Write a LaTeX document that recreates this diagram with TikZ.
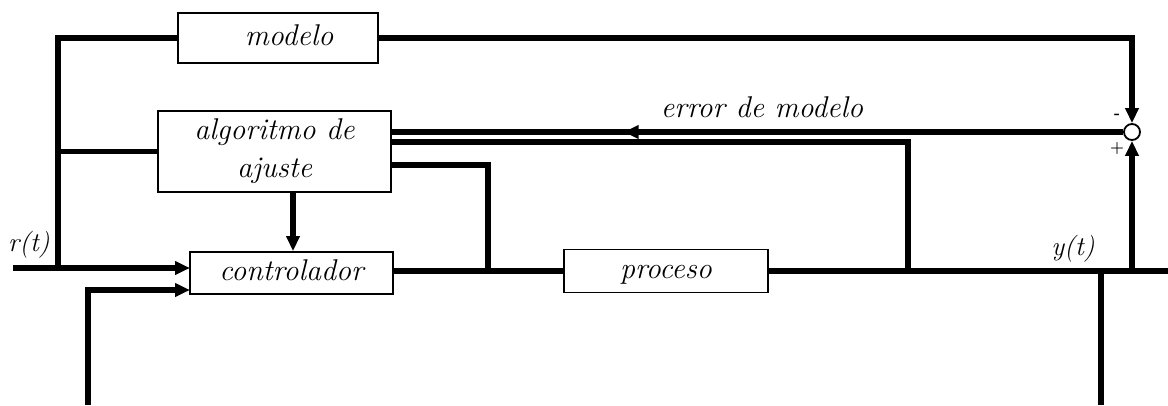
\documentclass[tikz,border=0pt]{standalone}
\usetikzlibrary{arrows.meta,decorations.markings}
\begin{document}
\begin{tikzpicture}[x=1pt,y=-1pt,
  wire/.style={line width=5.8pt,black},
  tip/.style={-{Triangle[length=15pt,width=13pt]}},
  blk/.style={draw=black,line width=1.8pt,fill=white,inner sep=0pt,
    font=\fontsize{30}{38}\selectfont\itshape,text height=21pt,text depth=6pt},
  lbl/.style={inner sep=0pt,font=\fontsize{27}{30}\selectfont\itshape},
  sgn/.style={inner sep=0pt,font=\fontsize{16}{16}\selectfont\bfseries}]
\useasboundingbox (0,0) rectangle (1168,405);
% blocks
\node[blk,minimum width=200pt,minimum height=50pt] (modelo) at (278,38) {\hspace*{22pt}modelo};
\node[blk,minimum width=233pt,minimum height=81pt,align=center,text height=,text depth=] (algo) at (274.5,151.5) {algoritmo de\\ajuste};
\node[blk,minimum width=203pt,minimum height=42pt] (ctrl) at (291.5,273) {controlador};
\node[blk,minimum width=204pt,minimum height=43pt] (proc) at (666,271) {proceso};
\node[draw=black,line width=1.8pt,circle,minimum size=16pt,inner sep=0pt] (sum) at (1132,132) {};
% labels
\node[lbl] (rt) at (29,245) {r(t)};
\node[lbl] (yt) at (1073,249) {y(t)};
\node[lbl,anchor=base,font=\fontsize{30}{30}\selectfont\itshape] (err) at (762,117) {error de modelo};
\node[sgn] (minus) at (1117,116) {-};
\node[sgn] (plus) at (1117,149) {+};
% coordinates
\coordinate (rin) at (13,268);
\coordinate (jL) at (58,268);
\coordinate (c1) at (190,268);
\coordinate (c2) at (190,290);
\coordinate (bot1) at (88,405);
\coordinate (e2) at (391,142);
\coordinate (e3) at (391,165);
\coordinate (jA) at (488,271);
\coordinate (jB) at (908,271);
\coordinate (jD) at (1101,271);
\coordinate (jS) at (1132,271);
\coordinate (out) at (1168,271);
\coordinate (bot2) at (1101,405);
\coordinate (d1) at (293,192);
% connectors
\draw[wire,tip] (rin) -- (c1);
\draw[wire] (jL) |- (modelo.west);
\draw[wire] (jL |- algo.west) -- (algo.west);
\draw[wire,tip] (modelo.east) -| (sum.north);
\draw[wire,postaction={decorate},decoration={markings,
  mark=at position 0.683 with {\arrow{Triangle[length=15pt,width=13pt]}}}]
  (sum.west) -- (algo.east |- sum.west);
\draw[wire] (e2) -| (jB);
\draw[wire] (e3) -| (jA);
\draw[wire,tip] (d1) -- (d1 |- ctrl.north);
\draw[wire] (ctrl.east |- proc.west) -- (proc.west);
\draw[wire] (proc.east) -- (out);
\draw[wire,tip] (jS) -- (sum.south);
\draw[wire] (jD) -- (bot2);
\draw[wire,tip] (bot1) |- (c2);
\end{tikzpicture}
\end{document}
